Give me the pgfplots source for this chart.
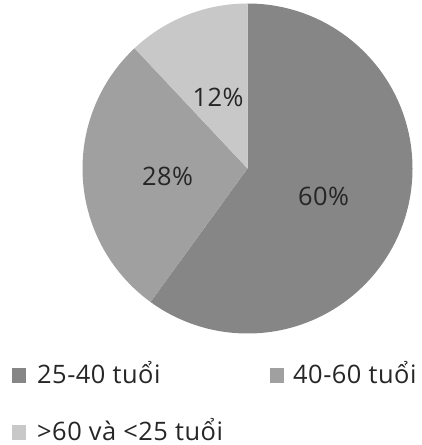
\documentclass[border=0pt]{standalone}
\usepackage{fontspec}
\setmainfont{Open Sans}
\usepackage{pgfplots}
\usepackage{pgfplotstable}
\pgfplotsset{compat=1.18}

\definecolor{sliceA}{HTML}{868686}
\definecolor{sliceB}{HTML}{A0A0A0}
\definecolor{sliceC}{HTML}{C8C8C8}

% share of each age group, in percent
\pgfplotstableread{
share
60
28
12
}\shares

\tikzset{lbl/.style={font=\fontsize{25.5}{30}\selectfont\addfontfeature{LetterSpace=2}, text=black!85}}

\begin{document}
\begin{tikzpicture}
\pgfplotstablegetelem{0}{share}\of\shares \pgfmathtruncatemacro\pA{\pgfplotsretval}
\pgfplotstablegetelem{1}{share}\of\shares \pgfmathtruncatemacro\pB{\pgfplotsretval}
\pgfplotstablegetelem{2}{share}\of\shares \pgfmathtruncatemacro\pC{\pgfplotsretval}
% slices run clockwise from the top
\pgfmathsetmacro\aA{90}
\pgfmathsetmacro\aB{\aA-3.6*\pA}
\pgfmathsetmacro\aC{\aB-3.6*\pB}
\pgfmathsetmacro\aD{\aC-3.6*\pC}
\pgfmathsetmacro\mA{(\aA+\aB)/2}
\pgfmathsetmacro\mB{(\aB+\aC)/2}
\pgfmathsetmacro\mC{(\aC+\aD)/2}
\def\cx{247.5}
\def\cy{276.5}
\def\R{165bp}
\def\lr{80bp}
\begin{axis}[
  at={(0,0)}, anchor=south west,
  width=422bp, height=445bp, scale only axis,
  xmin=0, xmax=422, ymin=0, ymax=445,
  hide axis, clip=false,
]
\fill[sliceA] (axis cs:\cx,\cy) -- ++(\aA:\R) arc[start angle=\aA, end angle=\aB, radius=\R] -- cycle;
\fill[sliceB] (axis cs:\cx,\cy) -- ++(\aB:\R) arc[start angle=\aB, end angle=\aC, radius=\R] -- cycle;
\fill[sliceC] (axis cs:\cx,\cy) -- ++(\aC:\R) arc[start angle=\aC, end angle=\aD, radius=\R] -- cycle;

\path (axis cs:\cx,\cy) ++(\mA:\lr) node[lbl, yshift=-3bp]{\pA\%};
\path (axis cs:\cx,\cy) ++(\mB:\lr) node[lbl, yshift=-3bp]{\pB\%};
\path (axis cs:\cx,\cy) ++(\mC:\lr) node[lbl, yshift=-3bp]{\pC\%};

% legend
\fill[sliceA] (axis cs:12,62) rectangle (axis cs:26,77);
\node[lbl, anchor=base west, inner sep=0pt] at (axis cs:37,61) {25-40 tuổi};
\fill[sliceB] (axis cs:270,62) rectangle (axis cs:284,77);
\node[lbl, anchor=base west, inner sep=0pt] at (axis cs:293,61) {40-60 tuổi};
\fill[sliceC] (axis cs:12,5) rectangle (axis cs:26,20);
\node[lbl, anchor=base west, inner sep=0pt] at (axis cs:37,5) {>60 và <25 tuổi};
\end{axis}
\pgfresetboundingbox
\path (0,0) rectangle (422bp,445bp);
\end{tikzpicture}
\end{document}
